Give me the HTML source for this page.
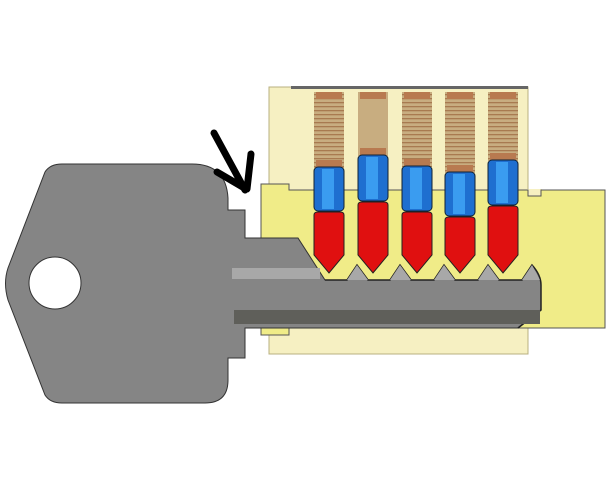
<!DOCTYPE html>
<html><head><style>html,body{margin:0;padding:0;background:#fff;}svg{display:block}</style></head>
<body>
<svg width="609" height="500" viewBox="0 0 609 500" xmlns="http://www.w3.org/2000/svg">
<defs>
<pattern id="spr" width="6" height="4" patternUnits="userSpaceOnUse">
<rect width="6" height="4" fill="#c8ad80"/>
<rect y="2" width="6" height="1.3" fill="#a87a50"/>
</pattern>
</defs>
<!-- housing outer -->
<rect x="269" y="87" width="259" height="267" fill="#f6f0c2" stroke="#b8b080" stroke-width="1"/>
<rect x="526" y="189" width="16" height="8" fill="#f6f0c2"/>
<rect x="291" y="86" width="237" height="3" fill="#666"/>
<!-- springs -->
<g>
<rect x="314" y="92" width="30" height="76" fill="url(#spr)"/>
<rect x="358" y="92" width="30" height="64" fill="#c8ad80"/>
<rect x="402" y="92" width="30" height="75" fill="url(#spr)"/>
<rect x="445" y="92" width="30" height="81" fill="url(#spr)"/>
<rect x="488" y="92" width="30" height="69" fill="url(#spr)"/>
</g>
<g fill="#b87a50">
<rect x="316" y="92" width="26" height="7"/><rect x="316" y="160" width="26" height="8"/>
<rect x="360" y="92" width="26" height="7"/><rect x="360" y="148" width="26" height="8"/>
<rect x="404" y="92" width="26" height="7"/><rect x="404" y="159" width="26" height="8"/>
<rect x="447" y="92" width="26" height="7"/><rect x="447" y="165" width="26" height="8"/>
<rect x="490" y="92" width="26" height="7"/><rect x="490" y="153" width="26" height="8"/>
</g>
<!-- plug -->
<path d="M261,184 H289 V190 H528 V196 H541 V190 H605 V328 H261 Z" fill="#f0ec88" stroke="#555" stroke-width="1"/>
<rect x="261" y="328" width="28" height="7" fill="#f0ec88" stroke="#555" stroke-width="1"/>
<!-- drivers (blue) -->
<g stroke="#123" stroke-width="1">
<rect x="314" y="167" width="30" height="44" rx="4" fill="#1e6fd0"/>
<rect x="358" y="155" width="30" height="46" rx="4" fill="#1e6fd0"/>
<rect x="402" y="166" width="30" height="45" rx="4" fill="#1e6fd0"/>
<rect x="445" y="172" width="30" height="44" rx="4" fill="#1e6fd0"/>
<rect x="488" y="160" width="30" height="45" rx="4" fill="#1e6fd0"/>
</g>
<g fill="#3a9cf0">
<rect x="322" y="169" width="12" height="40"/><rect x="366" y="157" width="12" height="42"/><rect x="410" y="168" width="12" height="41"/><rect x="453" y="174" width="12" height="40"/><rect x="496" y="162" width="12" height="41"/>
</g>
<!-- key pins red -->
<g fill="#e01010" stroke="#222" stroke-width="1">
<path d="M314,215 Q314,212 318,212 H340 Q344,212 344,215 V255 L329,273 L314,255 Z"/>
<path d="M358,205 Q358,202 362,202 H384 Q388,202 388,205 V255 L373,273 L358,255 Z"/>
<path d="M402,215 Q402,212 406,212 H428 Q432,212 432,215 V255 L417,273 L402,255 Z"/>
<path d="M445,220 Q445,217 449,217 H471 Q475,217 475,220 V255 L460,273 L445,255 Z"/>
<path d="M488,209 Q488,206 492,206 H514 Q518,206 518,209 V255 L503,273 L488,255 Z"/>
</g>
<!-- key -->
<path d="M62,164 H192 Q226,164 228,198 V210 H245 V238 H298 L325,280 H347 L357,265 L368,280 H390 L400,265 L411,280 H434 L444,265 L455,280 H478 L488,265 L499,280 H522 L532,265 Q541,275 541,285 V310 L518,328 H245 V358 H228 V380 Q228,403 205,403 H62 Q50,403 45,395 L8,300 Q3,283 8,268 L45,172 Q50,164 62,164 Z" fill="#858585" stroke="#333" stroke-width="1"/>
<path d="M325,280 H347 L357,265 L368,280 H390 L400,265 L411,280 H434 L444,265 L455,280 H478 L488,265 L499,280 H522 L532,265 Q541,275 541,285 V310 L518,328" fill="none" stroke="#222" stroke-width="1.5"/>
<path d="M347,280 L357,265 L368,280 Z M390,280 L400,265 L411,280 Z M434,280 L444,265 L455,280 Z M478,280 L488,265 L499,280 Z M522,280 L532,265 L540,280 Z" fill="#a8a8a8"/>
<rect x="232" y="268" width="88" height="11" fill="#a8a8a8"/>
<rect x="234" y="310" width="306" height="14" fill="#5f5f5a"/>
<circle cx="55" cy="283" r="26" fill="#fff" stroke="#333" stroke-width="1"/>
<!-- arrow -->
<g stroke="#000" stroke-width="7" stroke-linecap="round" fill="none">
<path d="M214,133 L245,190"/>
<path d="M217,172 L246,189"/>
<path d="M251,154 L247,189"/>
</g>
</svg>
</body></html>
